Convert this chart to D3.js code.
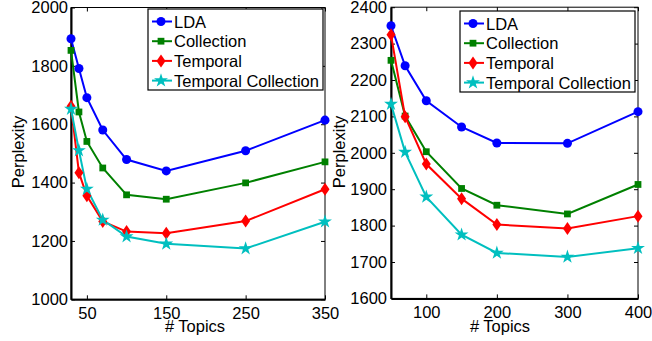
<!DOCTYPE html>
<html>
<head>
<meta charset="utf-8">
<script src="https://cdn.jsdelivr.net/npm/d3@7"></script>
<style>
    body { margin: 0; background: #ffffff; }
    text { font-family: "Liberation Sans", Arial, Helvetica, sans-serif; }
</style>
</head>
<body>
<div id="chart"></div>
<script>

// Data

// left panel
const topicsLeft = [30, 40, 50, 70, 100, 150, 250, 350];
const ldaLeft = [1893, 1791, 1691, 1580, 1479, 1440, 1509, 1614];
const collectionLeft = [1853, 1642, 1541, 1450, 1358, 1343, 1399, 1471];
const temporalLeft = [1662, 1434, 1355, 1267, 1232, 1226, 1268, 1377];
const tempCollLeft = [1652, 1510, 1378, 1272, 1215, 1190, 1174, 1266];
const yTicksLeft = [1000, 1200, 1400, 1600, 1800, 2000];
const xTicksLeft = [50, 150, 250, 350];

// right panel
const topicsRight = [50, 70, 100, 150, 200, 300, 400];
const ldaRight = [2349, 2239, 2143, 2071, 2027, 2026, 2113];
const collectionRight = [2254, 2101, 2003, 1902, 1856, 1832, 1913];
const temporalRight = [2324, 2099, 1969, 1874, 1803, 1792, 1826];
const tempCollRight = [2134, 2002, 1879, 1775, 1725, 1714, 1738];
const yTicksRight = [1600, 1700, 1800, 1900, 2000, 2100, 2200, 2300, 2400];
const xTicksRight = [100, 200, 300, 400];

const seriesNames = ["LDA", "Collection", "Temporal", "Temporal Collection"];
const seriesColors = ["#0000ff", "#008000", "#ff0000", "#00bfbf"];

//---------------------------------------------------------------------------------------

// Canvas

const W = 652;
const H = 341;
const fs = 16.5;

const svg = d3.select("#chart")
    .append("svg")
    .attr("width", W)
    .attr("height", H);

// marker shapes
const markerPath = [
    d3.symbol(d3.symbolCircle, 64)(),
    d3.symbol(d3.symbolSquare, 46)(),
    "M0,-6.5L4.5,0L0,6.5L-4.5,0Z",
    d3.symbol(d3.symbolStar, 60)()
];

//---------------------------------------------------------------------------------------

function drawPanel(p) {

    const g = svg.append("g");

    const x = d3.scaleLinear().domain(p.xDomain).range([p.left, p.right]);
    const y = d3.scaleLinear().domain(p.yDomain).range([p.bottom, p.top]);

    // box + ticks (inward, on all sides)
    g.append("rect")
        .attr("x", p.left).attr("y", p.top)
        .attr("width", p.right - p.left).attr("height", p.bottom - p.top)
        .attr("fill", "none").attr("stroke", "#000").attr("stroke-width", 1);

    g.append("g")
        .attr("transform", `translate(0, ${p.bottom})`)
        .call(d3.axisBottom(x).tickValues(p.xTicks).tickSizeInner(-4).tickSizeOuter(0).tickPadding(7.5))
        .call(a => a.select(".domain").attr("stroke-width", 2))
        .call(a => a.selectAll("text").attr("font-size", fs).attr("fill", "#000")
            .attr("font-family", "Liberation Sans, Arial, sans-serif"));

    g.append("g")
        .attr("transform", `translate(0, ${p.top})`)
        .call(d3.axisTop(x).tickValues(p.xTicks).tickSizeInner(-4).tickSizeOuter(0).tickFormat(""))
        .call(a => a.select(".domain").remove());

    g.append("g")
        .attr("transform", `translate(${p.left}, 0)`)
        .call(d3.axisLeft(y).tickValues(p.yTicks).tickSizeInner(-4).tickSizeOuter(0).tickPadding(p.yPad)
            .tickFormat(d3.format("d")))
        .call(a => a.select(".domain").attr("stroke-width", 2))
        .call(a => a.selectAll("text").attr("font-size", fs).attr("fill", "#000")
            .attr("font-family", "Liberation Sans, Arial, sans-serif"));

    g.append("g")
        .attr("transform", `translate(${p.right}, 0)`)
        .call(d3.axisRight(y).tickValues(p.yTicks).tickSizeInner(-4).tickSizeOuter(0).tickFormat(""))
        .call(a => a.select(".domain").remove());

    // axis titles
    g.append("text")
        .attr("x", p.xLabelX).attr("y", 332)
        .attr("text-anchor", "middle")
        .attr("font-size", fs)
        .text("# Topics");

    g.append("text")
        .attr("transform", `translate(${p.yLabelX}, 152) rotate(-90)`)
        .attr("text-anchor", "middle")
        .attr("font-size", fs)
        .text("Perplexity");

    // lines + markers
    const line = d3.line()
        .x((d, i) => x(p.topics[i]))
        .y(d => y(d));

    p.series.forEach((s, k) => {
        g.append("path")
            .attr("d", line(s))
            .attr("fill", "none")
            .attr("stroke", seriesColors[k])
            .attr("stroke-width", 2);
    });

    p.series.forEach((s, k) => {
        g.selectAll(null)
            .data(s)
            .join("path")
            .attr("d", markerPath[k])
            .attr("transform", (d, i) => `translate(${x(p.topics[i])}, ${y(d)})`)
            .attr("fill", seriesColors[k]);
    });

    // legend
    const lg = g.append("g")
        .attr("transform", `translate(${p.legX}, ${p.legY})`);

    lg.append("rect")
        .attr("width", 175).attr("height", 81)
        .attr("fill", "#fff").attr("stroke", "#000").attr("stroke-width", 1.2);

    const item = lg.selectAll(".legend")
        .data(seriesNames)
        .join("g")
        .attr("class", "legend")
        .attr("transform", (d, i) => `translate(0, ${12.5 + i * 19.7})`);

    item.append("line")
        .attr("x1", 4).attr("x2", 24)
        .attr("stroke", (d, i) => seriesColors[i])
        .attr("stroke-width", 2);

    item.append("path")
        .attr("d", (d, i) => markerPath[i])
        .attr("transform", "translate(13, 0)")
        .attr("fill", (d, i) => seriesColors[i]);

    item.append("text")
        .attr("x", 26).attr("y", 6)
        .attr("font-size", fs)
        .text(d => d);
}

//---------------------------------------------------------------------------------------

drawPanel({
    left: 71, right: 325, top: 7.5, bottom: 299.3,
    xDomain: [30, 350], yDomain: [1000, 2000],
    xTicks: xTicksLeft, yTicks: yTicksLeft, yPad: 3,
    topics: topicsLeft,
    series: [ldaLeft, collectionLeft, temporalLeft, tempCollLeft],
    xLabelX: 195, yLabelX: 23.5,
    legX: 148, legY: 9
});

drawPanel({
    left: 391, right: 638, top: 7.2, bottom: 298.4,
    xDomain: [50, 400], yDomain: [1600, 2400],
    xTicks: xTicksRight, yTicks: yTicksRight, yPad: 4,
    topics: topicsRight,
    series: [ldaRight, collectionRight, temporalRight, tempCollRight],
    xLabelX: 500, yLabelX: 344.5,
    legX: 460, legY: 11
});

</script>
</body>
</html>
